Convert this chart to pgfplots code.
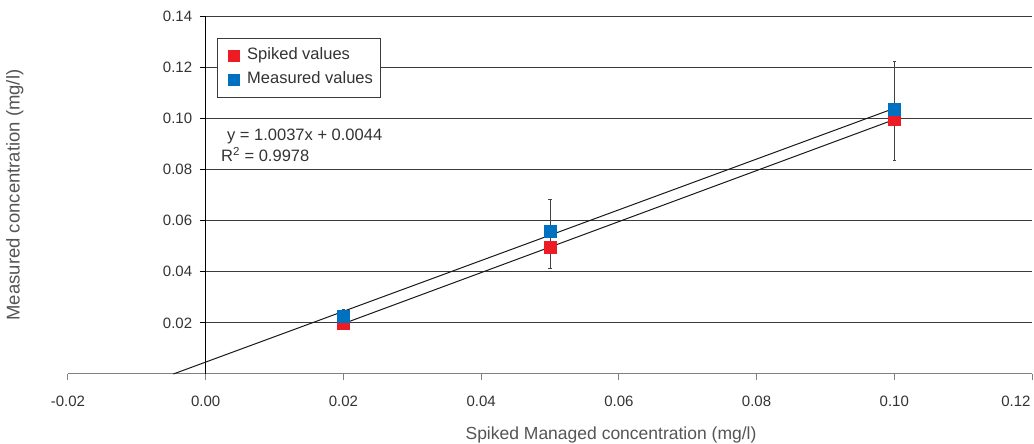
\documentclass[border=0pt]{standalone}
\usepackage{fontspec}
\setmainfont{Liberation Sans}
\usepackage{pgfplots}
\pgfplotsset{compat=1.18}

\definecolor{spiked}{HTML}{ED1C24}
\definecolor{measured}{HTML}{0070C0}
\definecolor{gridc}{HTML}{3A3A3A}
\definecolor{xaxc}{HTML}{808080}
\definecolor{tickc}{HTML}{333333}
\definecolor{labc}{HTML}{555555}
\definecolor{errc}{HTML}{444444}

\begin{document}
\begin{tikzpicture}
\begin{axis}[
    at={(0pt,0pt)}, anchor=south west,
    scale only axis, width=964pt, height=358pt,
    xmin=-0.02, xmax=0.12, ymin=0, ymax=0.14,
    clip=false,
    axis x line*=bottom, axis y line*=center,
    hide obscured x ticks=false, hide obscured y ticks=false,
    x axis line style={xaxc, line width=1pt},
    y axis line style={black, line width=0.9pt},
    xtick={-0.02,0,0.02,0.04,0.06,0.08,0.1},
    extra x ticks={0.12},
    extra x tick style={xticklabel style={anchor=north east, xshift=2pt}},
    ytick={0.02,0.04,0.06,0.08,0.1,0.12,0.14},
    tick align=outside, major tick length=6pt,
    xtick style={xaxc, line width=1pt},
    ytick style={black, line width=0.9pt},
    minor tick num=0,
    /pgf/number format/.cd, fixed, fixed zerofill, precision=2, assume math mode=true,
    /pgfplots/.cd,
    xticklabel style={font=\fontsize{15}{18}\selectfont, text=tickc, yshift=-12pt},
    yticklabel style={font=\fontsize{15}{18}\selectfont, text=tickc, xshift=-4pt},
    legend style={at={(rel axis cs:0.1546,0.9385)}, anchor=north west,
        draw=gridc, line width=0.8pt, inner xsep=6pt, inner ysep=7.5pt,
        font=\fontsize{16.5}{19}\selectfont, text=tickc,
        nodes={text height=12pt, text depth=3.5pt, inner ysep=2pt},
        row sep=4.5pt},
    legend cell align=left,
]
% horizontal grid lines from x = 0
\pgfplotsinvokeforeach{0.02,0.04,0.06,0.08,0.10,0.12,0.14}{
    \draw[gridc, line width=0.9pt] (axis cs:0,#1) -- (axis cs:0.12,#1);
}

% error bars of the measured values
\addplot[draw=none, mark=none, forget plot,
    error bars/.cd, y dir=both, y explicit,
    error bar style={draw=errc, line width=0.8pt},
    error mark options={draw=errc, rotate=90, mark size=1.6pt, line width=0.8pt}]
    coordinates {
    (0.02,0.0223) += (0,0.0031) -= (0,0.0031)
    (0.05,0.0559) += (0,0.0124) -= (0,0.0146)
    (0.10,0.1036) += (0,0.0187) -= (0,0.0199)
};

\addplot[only marks, mark=square*, mark size=6pt, color=spiked,
    mark options={draw=spiked, fill=spiked, line width=0pt},
    legend image code/.code={
        \fill[white, opacity=0] (0pt,-5.5pt) rectangle (21pt,5.5pt);
        \fill[spiked] (5pt,-5.5pt) rectangle (16pt,5.5pt);}]
    coordinates {(0.02,0.0196) (0.05,0.0493) (0.10,0.0995)};
\addlegendentry{Spiked values}

\addplot[only marks, mark=square*, mark size=6pt, color=measured,
    mark options={draw=measured, fill=measured, line width=0pt},
    legend image code/.code={
        \fill[white, opacity=0] (0pt,-5.5pt) rectangle (21pt,5.5pt);
        \fill[measured] (5pt,-5.5pt) rectangle (16pt,5.5pt);}]
    coordinates {(0.02,0.0223) (0.05,0.0559) (0.10,0.1036)};
\addlegendentry{Measured values}

% trend lines
\addplot[forget plot, black!90, line width=1pt] coordinates {(-0.0047,0) (0.10,0.1039)};
\addplot[forget plot, black!90, line width=1pt] coordinates {(0.02,0.0197) (0.10,0.0995)};

\node[anchor=base west, inner sep=0pt, text=tickc, font=\fontsize{16.5}{19}\selectfont]
    at (rel axis cs:0.1649,0.6536) {y = 1.0037x + 0.0044};
\node[anchor=base west, inner sep=0pt, text=tickc, font=\fontsize{16.5}{19}\selectfont]
    at (rel axis cs:0.1587,0.5922) {R\textsuperscript{2} = 0.9978};

\node[anchor=base, inner sep=0pt, text=labc, font=\fontsize{17.5}{20}\selectfont]
    at (rel axis cs:0.5633,-0.1816) {Spiked Managed concentration (mg/l)};
\node[anchor=base, rotate=90, inner sep=0pt, text=labc, font=\fontsize{18.5}{21}\selectfont]
    at (rel axis cs:-0.0503,0.5) {Measured concentration (mg/l)};
\end{axis}
\pgfresetboundingbox
\useasboundingbox (-68pt,-70pt) rectangle (966pt,374pt);
\end{tikzpicture}
\end{document}
